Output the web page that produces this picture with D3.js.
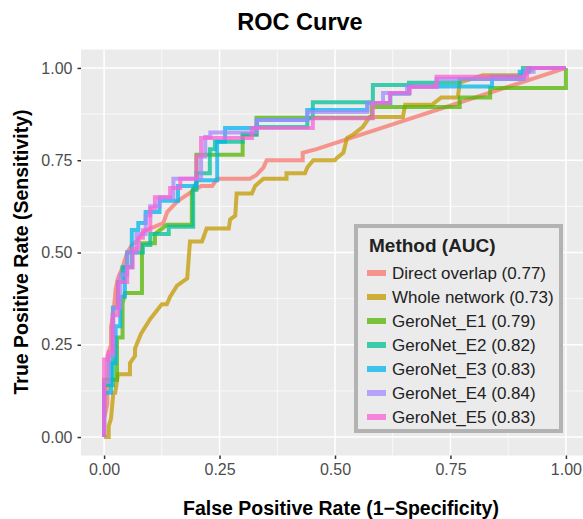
<!DOCTYPE html>
<meta charset="utf-8">
<style>
  body { margin: 0; background: #fff; }
  svg { display: block; font-family: "Liberation Sans", Arial, sans-serif; }
</style>
<svg></svg>
<script src="https://cdn.jsdelivr.net/npm/d3@7"></script>
<script>
// ROC curves, points as [fpr, tpr]
var directOverlap = [[0,0],[0,0.05],[0.007,0.09],[0.007,0.22],[0.015,0.25],[0.015,0.30],[0.02,0.33],[0.025,0.40],[0.03,0.43],[0.04,0.46],[0.05,0.50],[0.06,0.52],[0.07,0.53],[0.082,0.55],[0.089,0.56],[0.11,0.57],[0.128,0.58],[0.137,0.61],[0.16,0.64],[0.19,0.665],[0.21,0.68],[0.234,0.68],[0.245,0.70],[0.316,0.70],[0.33,0.71],[0.345,0.73],[0.352,0.75],[0.43,0.75],[0.43,0.77],[0.46,0.78],[1,1]];
var wholeNetwork = [[0,0],[0.01,0],[0.01,0.03],[0.015,0.05],[0.02,0.12],[0.024,0.12],[0.03,0.17],[0.056,0.17],[0.056,0.20],[0.067,0.22],[0.067,0.24],[0.08,0.28],[0.1,0.32],[0.125,0.36],[0.136,0.36],[0.143,0.38],[0.158,0.41],[0.18,0.43],[0.186,0.53],[0.212,0.53],[0.222,0.565],[0.27,0.565],[0.273,0.59],[0.284,0.60],[0.287,0.66],[0.32,0.66],[0.327,0.68],[0.345,0.70],[0.395,0.70],[0.395,0.715],[0.435,0.715],[0.44,0.73],[0.453,0.75],[0.5,0.75],[0.504,0.756],[0.518,0.77],[0.526,0.81],[0.54,0.82],[0.56,0.84],[0.575,0.867],[0.647,0.867],[0.652,0.90],[0.71,0.90],[0.73,0.92],[0.766,0.92],[0.77,0.96],[0.82,0.98],[0.91,0.98],[0.93,1],[1,1]];
var geroE1 = [[0,0],[0,0.155],[0.028,0.155],[0.028,0.27],[0.04,0.27],[0.04,0.36],[0.045,0.39],[0.082,0.39],[0.082,0.525],[0.11,0.525],[0.11,0.55],[0.136,0.575],[0.19,0.575],[0.19,0.665],[0.2,0.69],[0.2,0.765],[0.3,0.765],[0.3,0.82],[0.33,0.82],[0.33,0.865],[0.58,0.865],[0.58,0.894],[0.77,0.894],[0.77,0.92],[0.836,0.92],[0.836,0.946],[1,0.946],[1,1]];
var geroE2 = [[0,0],[0,0.14],[0.019,0.14],[0.019,0.35],[0.03,0.35],[0.03,0.42],[0.04,0.42],[0.04,0.46],[0.05,0.46],[0.05,0.50],[0.084,0.50],[0.084,0.52],[0.1,0.52],[0.1,0.55],[0.14,0.55],[0.14,0.57],[0.193,0.57],[0.193,0.67],[0.2,0.67],[0.2,0.715],[0.229,0.715],[0.229,0.78],[0.24,0.78],[0.24,0.80],[0.3,0.80],[0.3,0.82],[0.33,0.82],[0.33,0.84],[0.44,0.84],[0.44,0.864],[0.452,0.864],[0.452,0.907],[0.582,0.907],[0.582,0.954],[0.66,0.954],[0.66,0.96],[0.77,0.96],[0.77,0.97],[0.907,0.97],[0.907,1],[1,1]];
var geroE3 = [[0,0],[0,0.12],[0.015,0.12],[0.015,0.20],[0.025,0.20],[0.025,0.30],[0.035,0.30],[0.035,0.38],[0.045,0.38],[0.045,0.46],[0.06,0.46],[0.06,0.561],[0.074,0.561],[0.074,0.58],[0.09,0.58],[0.09,0.61],[0.12,0.61],[0.12,0.64],[0.16,0.64],[0.16,0.68],[0.2,0.68],[0.2,0.696],[0.245,0.696],[0.245,0.80],[0.262,0.80],[0.262,0.837],[0.331,0.837],[0.331,0.859],[0.44,0.859],[0.44,0.886],[0.57,0.886],[0.57,0.905],[0.62,0.905],[0.62,0.93],[0.66,0.93],[0.66,0.95],[0.84,0.95],[0.84,0.976],[0.9,0.976],[0.9,0.99],[0.92,0.99],[0.92,1],[1,1]];
var geroE4 = [[0,0],[0,0.15],[0.01,0.15],[0.01,0.22],[0.02,0.22],[0.02,0.35],[0.035,0.35],[0.035,0.44],[0.05,0.44],[0.05,0.50],[0.07,0.50],[0.07,0.55],[0.09,0.55],[0.09,0.60],[0.1,0.60],[0.1,0.625],[0.12,0.625],[0.12,0.65],[0.15,0.65],[0.15,0.70],[0.21,0.70],[0.21,0.76],[0.219,0.76],[0.219,0.813],[0.23,0.813],[0.23,0.825],[0.33,0.825],[0.33,0.859],[0.44,0.859],[0.44,0.881],[0.57,0.881],[0.57,0.905],[0.604,0.905],[0.604,0.932],[0.656,0.932],[0.656,0.949],[0.72,0.949],[0.72,0.97],[0.91,0.97],[0.91,0.99],[0.93,0.99],[0.93,1],[1,1]];
var geroE5 = [[0,0],[0,0.21],[0.01,0.21],[0.01,0.23],[0.018,0.23],[0.018,0.33],[0.03,0.33],[0.03,0.42],[0.05,0.42],[0.05,0.46],[0.062,0.46],[0.062,0.51],[0.075,0.51],[0.075,0.54],[0.084,0.54],[0.084,0.56],[0.1,0.56],[0.1,0.62],[0.11,0.62],[0.11,0.65],[0.143,0.65],[0.143,0.675],[0.165,0.675],[0.165,0.70],[0.2,0.70],[0.2,0.76],[0.21,0.76],[0.21,0.81],[0.32,0.81],[0.32,0.837],[0.452,0.837],[0.452,0.864],[0.582,0.864],[0.582,0.905],[0.619,0.905],[0.619,0.932],[0.662,0.932],[0.662,0.949],[0.72,0.949],[0.72,0.976],[0.916,0.976],[0.916,1],[1,1]];

var methods = ["Direct overlap", "Whole network", "GeroNet_E1", "GeroNet_E2", "GeroNet_E3", "GeroNet_E4", "GeroNet_E5"];
var aucs = [0.77, 0.73, 0.79, 0.82, 0.83, 0.84, 0.83];
var curves = [directOverlap, wholeNetwork, geroE1, geroE2, geroE3, geroE4, geroE5];
var colors = ["#F8766D", "#C49A00", "#53B400", "#00C094", "#00B6EB", "#A58AFF", "#FB61D7"];
var ticks = [0, 0.25, 0.5, 0.75, 1];
var minorTicks = [0.125, 0.375, 0.625, 0.875];

var W = 583, H = 519;
var svg = d3.select("svg").attr("width", W).attr("height", H);

// panel geometry (ggplot style, 5% expansion)
var panel = {left: 81, top: 49.5, right: 589, bottom: 455.5};
var x = d3.scaleLinear().domain([-0.05, 1.05]).range([panel.left, panel.right]);
var y = d3.scaleLinear().domain([-0.05, 1.05]).range([panel.bottom, panel.top]);

svg.append("rect")
  .attr("x", panel.left).attr("y", panel.top)
  .attr("width", panel.right - panel.left).attr("height", panel.bottom - panel.top)
  .attr("fill", "#EBEBEB");

// grid
var grid = svg.append("g");
minorTicks.forEach(function(t) {
  grid.append("line").attr("x1", x(t)).attr("x2", x(t)).attr("y1", panel.top).attr("y2", panel.bottom)
    .attr("stroke", "#fff").attr("stroke-width", 0.7);
  grid.append("line").attr("y1", y(t)).attr("y2", y(t)).attr("x1", panel.left).attr("x2", panel.right)
    .attr("stroke", "#fff").attr("stroke-width", 0.7);
});
ticks.forEach(function(t) {
  grid.append("line").attr("x1", x(t)).attr("x2", x(t)).attr("y1", panel.top).attr("y2", panel.bottom)
    .attr("stroke", "#fff").attr("stroke-width", 1.5);
  grid.append("line").attr("y1", y(t)).attr("y2", y(t)).attr("x1", panel.left).attr("x2", panel.right)
    .attr("stroke", "#fff").attr("stroke-width", 1.5);
});

// axes
var xAxis = svg.append("g").attr("transform", "translate(0," + panel.bottom + ")")
  .call(d3.axisBottom(x).tickValues(ticks).tickFormat(d3.format(".2f")).tickSize(3.5).tickPadding(5));
var yAxis = svg.append("g").attr("transform", "translate(" + panel.left + ",0)")
  .call(d3.axisLeft(y).tickValues(ticks).tickFormat(d3.format(".2f")).tickSize(3.5).tickPadding(5));
[xAxis, yAxis].forEach(function(a) {
  a.select(".domain").remove();
  a.selectAll(".tick line").attr("stroke", "#333").attr("stroke-width", 1.5);
  a.selectAll(".tick text").attr("fill", "#4D4D4D").style("font-size", "16px")
    .style("font-family", "'Liberation Sans', Arial, sans-serif");
});

// curves
var line = d3.line()
  .x(function(d) { return x(d[0]); })
  .y(function(d) { return y(d[1]); });

svg.append("g").selectAll("path")
  .data(curves)
  .join("path")
  .attr("d", line)
  .attr("fill", "none")
  .attr("stroke", function(d, i) { return colors[i]; })
  .attr("stroke-opacity", 0.75)
  .attr("stroke-width", 4)
  .attr("stroke-linejoin", "miter");

// titles
svg.append("text").attr("x", 300).attr("y", 30).attr("text-anchor", "middle")
  .style("font-size", "23.5px").style("font-weight", "bold").text("ROC Curve");
svg.append("text").attr("x", 341).attr("y", 515).attr("text-anchor", "middle")
  .style("font-size", "19.5px").style("font-weight", "bold").text("False Positive Rate (1\u2212Specificity)");
svg.append("text").attr("transform", "translate(28,252) rotate(-90)").attr("text-anchor", "middle")
  .style("font-size", "19.5px").style("font-weight", "bold").text("True Positive Rate (Sensitivity)");

// legend
var lg = svg.append("g");
lg.append("rect").attr("x", 356).attr("y", 226).attr("width", 205).attr("height", 205)
  .attr("fill", "#EBEBEB").attr("stroke", "#B3B3B3").attr("stroke-width", 4);
lg.append("text").attr("x", 369).attr("y", 252)
  .style("font-size", "19px").style("font-weight", "bold").attr("fill", "#222").text("Method (AUC)");
methods.forEach(function(m, i) {
  var cy = 273 + i * 24;
  lg.append("rect").attr("x", 367).attr("y", cy - 3).attr("width", 19).attr("height", 6)
    .attr("fill", colors[i]).attr("fill-opacity", 0.75);
  lg.append("text").attr("x", 392).attr("y", cy + 6)
    .style("font-size", "17px").attr("fill", "#222").text(m + " (" + aucs[i].toFixed(2) + ")");
});
</script>
